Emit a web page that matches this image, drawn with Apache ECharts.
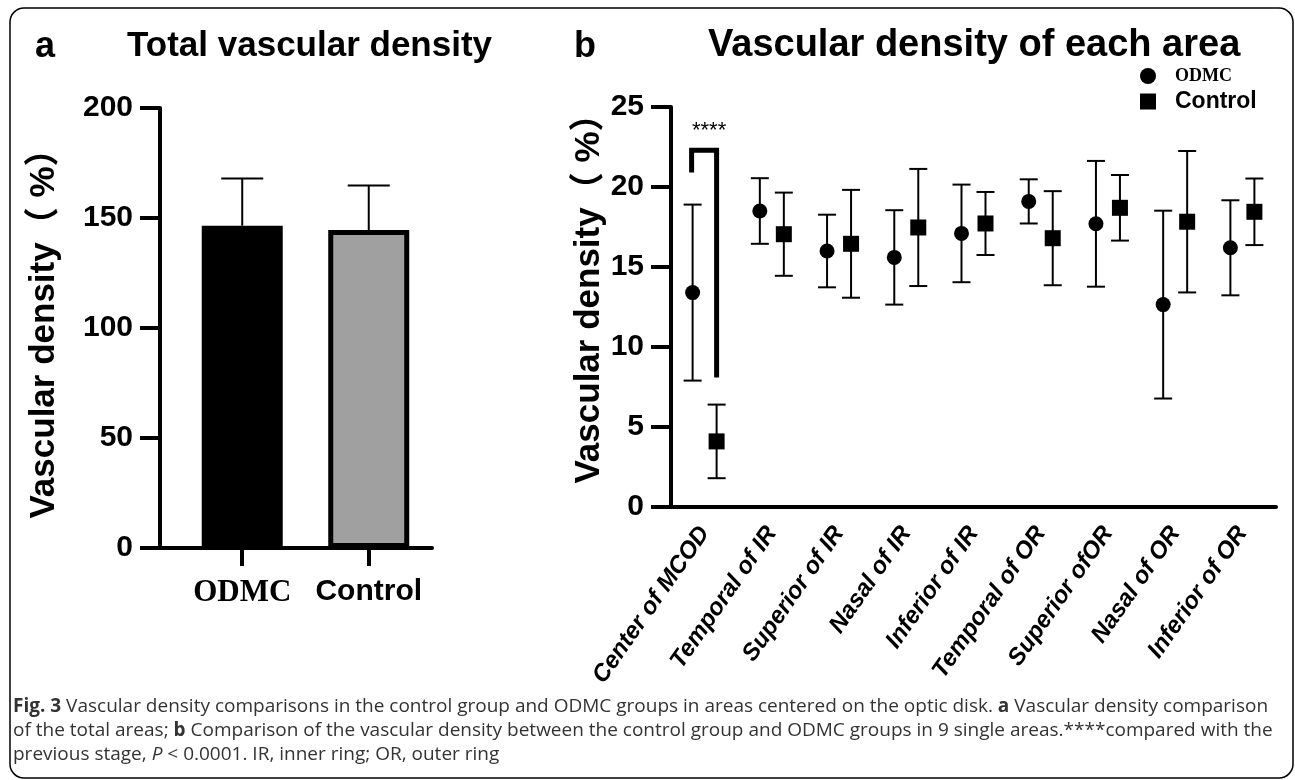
<!DOCTYPE html>
<html>
<head>
<meta charset="utf-8">
<script src="https://cdn.jsdelivr.net/npm/echarts@6/dist/echarts.min.js"></script>
<style>
html, body { margin: 0; padding: 0; background: #fff; }
#main { width: 1295px; height: 780px; }
</style>
</head>
<body>
<div id="main"></div>
<script>
// panel a: total vascular density (mean and SD)
const totalGroups = ['ODMC', 'Control']
const totalMean = [146.5, 144.5]
const totalSd = [21.5, 20.3]

// panel b: vascular density of each area
const areaNames = ['Center of MCOD', 'Temporal of IR', 'Superior of IR', 'Nasal of IR', 'Inferior of IR',
    'Temporal of OR', 'Superior ofOR', 'Nasal of OR', 'Inferior of OR']
const odmcMean = [13.4, 18.5, 16.0, 15.6, 17.1, 19.1, 17.7, 12.65, 16.2]
const odmcSd = [5.5, 2.05, 2.27, 2.95, 3.05, 1.38, 3.93, 5.87, 2.97]
const controlMean = [4.1, 17.05, 16.45, 17.47, 17.72, 16.8, 18.7, 17.83, 18.45]
const controlSd = [2.3, 2.6, 3.37, 3.66, 1.97, 2.94, 2.05, 4.42, 2.08]
// significance bracket: area index, left leg bottom, top, right leg bottom
const sigBracket = [0, 20.9, 22.3, 8.1]
const sigLabel = '****'

const sans = '"Liberation Sans", Arial, "Noto Sans CJK SC", sans-serif'
const serif = '"Liberation Serif", "Times New Roman", serif'

const chart = echarts.init(document.getElementById('main'))

// error bar with a filled symbol, shifted sideways from the category center
function errorPoint(shape, shift) {
    return function (params, api) {
        const i = api.value(0)
        const m = api.value(1)
        const s = api.value(2)
        const c = api.coord([i, m])
        const t = api.coord([i, m + s])
        const b = api.coord([i, m - s])
        const x = c[0] + shift
        const ln = { stroke: '#000', lineWidth: 2 }
        const sym = shape === 'circle'
            ? { type: 'circle', shape: { cx: x, cy: c[1], r: 7.5 }, style: { fill: '#000' } }
            : { type: 'rect', shape: { x: x - 8, y: c[1] - 8, width: 16, height: 16 }, style: { fill: '#000' } }
        return {
            type: 'group',
            children: [
                { type: 'line', shape: { x1: x, y1: t[1], x2: x, y2: b[1] }, style: ln },
                { type: 'line', shape: { x1: x - 9, y1: t[1], x2: x + 9, y2: t[1] }, style: ln },
                { type: 'line', shape: { x1: x - 9, y1: b[1], x2: x + 9, y2: b[1] }, style: ln },
                sym,
            ],
        }
    }
}

const caption = '{b|Fig. 3} Vascular density comparisons in the control group and ODMC groups in areas centered on the optic disk. {b|a} Vascular density comparison\n' +
    'of the total areas; {b|b} Comparison of the vascular density between the control group and ODMC groups in 9 single areas.****compared with the\n' +
    'previous stage, {i|P} < 0.0001. IR, inner ring; OR, outer ring'

const capFont = '"Open Sans", sans-serif'
const axisLineStyle = { color: '#000', width: 4 }
const tickLabel = { fontFamily: sans, fontWeight: 'bold', fontSize: 30, color: '#000', margin: 27 }

const option = {
    animation: false,
    backgroundColor: '#fff',
    title: [
        { text: 'a', left: 30, top: 24, textStyle: { fontFamily: sans, fontWeight: 'bold', fontSize: 36, color: '#000' } },
        { text: 'Total vascular density', left: 122, top: 24, textStyle: { fontFamily: sans, fontWeight: 'bold', fontSize: 35, color: '#000' } },
        { text: 'b', left: 569, top: 24, textStyle: { fontFamily: sans, fontWeight: 'bold', fontSize: 36, color: '#000' } },
        { text: 'Vascular density of each area', left: 703, top: 22, textStyle: { fontFamily: sans, fontWeight: 'bold', fontSize: 38, color: '#000' } },
    ],
    legend: {
        orient: 'vertical',
        left: 1135,
        top: 62,
        itemWidth: 16,
        itemHeight: 16,
        itemGap: 5,
        data: [
            { name: 'ODMC', icon: 'circle', textStyle: { fontFamily: serif, fontWeight: 'bold', fontSize: 18, color: '#000', padding: [0, 0, 0, 14] } },
            { name: 'Control', icon: 'rect', textStyle: { fontFamily: sans, fontWeight: 'bold', fontSize: 23, color: '#000', padding: [0, 0, 0, 14] } },
        ],
    },
    grid: [
        { left: 160, top: 108, width: 272, height: 440 },
        { left: 671, top: 107, width: 605, height: 400 },
    ],
    xAxis: [
        {
            gridIndex: 0,
            type: 'value',
            min: 0.35,
            max: 2.5,
            splitLine: { show: false },
            axisLine: { lineStyle: axisLineStyle },
            axisTick: { customValues: [1, 2], length: 18, lineStyle: { width: 4, color: '#000' } },
            axisLabel: {
                customValues: [1, 2],
                margin: 29,
                formatter: (v) => (v === 1 ? '{o|' + totalGroups[0] + '}' : '{c|' + totalGroups[1] + '}'),
                rich: {
                    o: { fontFamily: serif, fontWeight: 'bold', fontSize: 31, color: '#000' },
                    c: { fontFamily: sans, fontWeight: 'bold', fontSize: 30, color: '#000' },
                },
            },
        },
        {
            gridIndex: 1,
            type: 'category',
            data: areaNames,
            axisLine: { lineStyle: axisLineStyle },
            axisTick: { alignWithLabel: true, length: 18, lineStyle: { width: 4, color: '#000' } },
            axisLabel: {
                rotate: 55,
                interval: 0,
                margin: 22,
                fontFamily: sans,
                fontWeight: 'bold',
                fontStyle: 'italic',
                fontSize: 24,
                color: '#000',
            },
        },
    ],
    yAxis: [
        {
            gridIndex: 0,
            type: 'value',
            min: 0,
            max: 200,
            interval: 50,
            splitLine: { show: false },
            axisLine: { show: true, lineStyle: axisLineStyle },
            axisTick: { show: true, length: 20, lineStyle: { width: 4, color: '#000' } },
            axisLabel: tickLabel,
            name: 'Vascular density（ %）',
            nameLocation: 'middle',
            nameGap: 98,
            nameTextStyle: { fontFamily: sans, fontWeight: 'bold', fontSize: 35, color: '#000', padding: [0, 0, 0, 6] },
        },
        {
            gridIndex: 1,
            type: 'value',
            min: 0,
            max: 25,
            interval: 5,
            splitLine: { show: false },
            axisLine: { show: true, lineStyle: axisLineStyle },
            axisTick: { show: true, length: 20, lineStyle: { width: 4, color: '#000' } },
            axisLabel: tickLabel,
            name: 'Vascular density（ %）',
            nameLocation: 'middle',
            nameGap: 64,
            nameTextStyle: { fontFamily: sans, fontWeight: 'bold', fontSize: 35, color: '#000', padding: [0, 0, 0, 34] },
        },
    ],
    series: [
        {
            type: 'bar',
            xAxisIndex: 0,
            yAxisIndex: 0,
            barWidth: 81,
            z: 3,
            data: [
                { value: [1, totalMean[0]], itemStyle: { color: '#000' } },
                { value: [2, totalMean[1]], itemStyle: { color: '#a0a0a0', borderColor: '#000', borderWidth: 5 } },
            ],
        },
        {
            // upper error bars of panel a
            type: 'custom',
            xAxisIndex: 0,
            yAxisIndex: 0,
            z: 2,
            data: totalMean.map((m, i) => [i + 1, m, totalSd[i]]),
            renderItem: function (params, api) {
                const c = api.coord([api.value(0), api.value(1)])
                const t = api.coord([api.value(0), api.value(1) + api.value(2)])
                const ln = { stroke: '#000', lineWidth: 2 }
                return {
                    type: 'group',
                    children: [
                        { type: 'line', shape: { x1: c[0], y1: c[1], x2: c[0], y2: t[1] }, style: ln },
                        { type: 'line', shape: { x1: c[0] - 21, y1: t[1], x2: c[0] + 21, y2: t[1] }, style: ln },
                    ],
                }
            },
        },
        {
            name: 'ODMC',
            type: 'custom',
            xAxisIndex: 1,
            yAxisIndex: 1,
            itemStyle: { color: '#000' },
            data: odmcMean.map((m, i) => [i, m, odmcSd[i]]),
            renderItem: errorPoint('circle', -12),
        },
        {
            name: 'Control',
            type: 'custom',
            xAxisIndex: 1,
            yAxisIndex: 1,
            itemStyle: { color: '#000' },
            data: controlMean.map((m, i) => [i, m, controlSd[i]]),
            renderItem: errorPoint('rect', 12),
        },
        {
            // significance bracket
            type: 'custom',
            xAxisIndex: 1,
            yAxisIndex: 1,
            data: [sigBracket],
            renderItem: function (params, api) {
                const i = api.value(0)
                const lb = api.coord([i, api.value(1)])
                const tp = api.coord([i, api.value(2)])
                const rb = api.coord([i, api.value(3)])
                const lx = lb[0] - 13
                const rx = lb[0] + 12
                return {
                    type: 'group',
                    children: [
                        {
                            type: 'polyline',
                            shape: { points: [[lx, lb[1]], [lx, tp[1]], [rx, tp[1]], [rx, rb[1]]] },
                            style: { stroke: '#000', lineWidth: 5, fill: null, lineJoin: 'miter' },
                        },
                        {
                            type: 'text',
                            x: (lx + rx) / 2 + 5,
                            y: tp[1] - 19,
                            style: { text: sigLabel, fontFamily: sans, fontSize: 22, fill: '#000', align: 'center', verticalAlign: 'middle' },
                        },
                    ],
                }
            },
        },
    ],
    graphic: [
        {
            type: 'rect',
            shape: { x: 10, y: 8, width: 1283, height: 770, r: 14 },
            style: { fill: null, stroke: '#000', lineWidth: 1.5 },
            silent: true,
        },
        {
            type: 'text',
            left: 13,
            top: 695,
            style: {
                text: caption,
                fontFamily: capFont,
                fontSize: 19,
                lineHeight: 24,
                fill: '#333',
                rich: {
                    b: { fontWeight: 'bold', fontFamily: capFont, fontSize: 19, lineHeight: 24, fill: '#333' },
                    i: { fontStyle: 'italic', fontFamily: capFont, fontSize: 19, lineHeight: 24, fill: '#333' },
                },
            },
        },
    ],
}

chart.setOption(option)
</script>
</body>
</html>
